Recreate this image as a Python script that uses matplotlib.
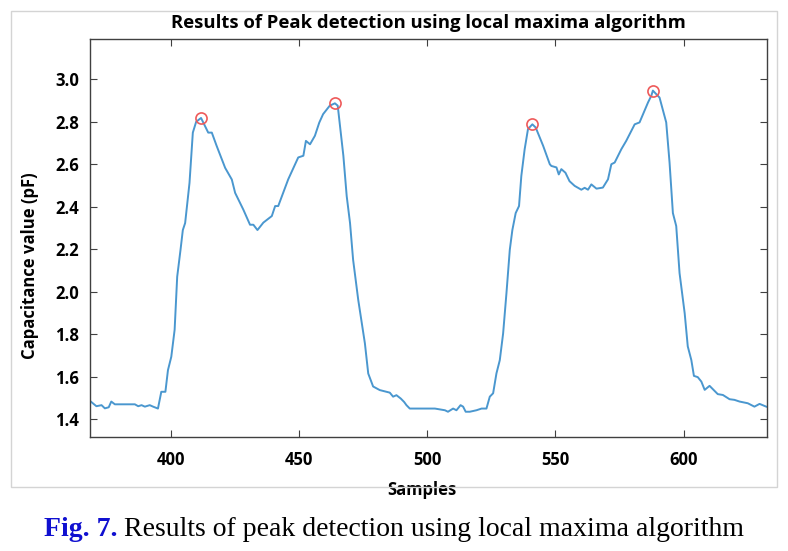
import numpy as np
import matplotlib.pyplot as plt
from matplotlib.patches import Rectangle

samples = [368.8, 371, 373, 374.3, 375.8, 376.8, 378.2, 386, 387.3, 388.6, 389.9, 391.8,
           393.1, 395, 396.3, 397.9, 398.9, 400.2, 401.5, 402.5, 403.8, 404.7, 405.6,
           407.3, 408.6, 409.9, 411.8, 414.6, 416, 417.9, 421.2, 423.8, 425.1, 428.3,
           430.9, 432.2, 433.8, 436.1, 439.4, 440.7, 441.9, 445.8, 449.7, 451.7, 452.7,
           454.3, 456.2, 457.9, 459.4, 462, 464, 465.1, 467.3, 468.6, 469.9, 471.1,
           473.1, 475.7, 477, 478.9, 481.5, 485.4, 486.7, 488, 489.7, 491, 491.9, 493.2,
           503, 506.9, 508.1, 510.1, 511.4, 513, 514, 515, 516.6, 519.2, 521.2, 523.1,
           524.4, 525.7, 527, 528.3, 529.6, 530.9, 532.2, 533.2, 534.5, 535.8, 536.7,
           538, 539.3, 541, 542.3, 545.2, 547.8, 548.4, 550.4, 551.3, 552.3, 553.9,
           555.5, 557.5, 560.1, 561.4, 562.7, 564, 566, 568.5, 570.5, 571.8, 573.1,
           575.7, 577.6, 580.9, 582.8, 584.7, 586.1, 587.4, 588, 590.6, 593.2, 594.5,
           595.8, 597.1, 598.4, 600.4, 601.6, 603, 604, 605.5, 606.9, 608.2, 610.1,
           613.3, 615.3, 617.9, 619.8, 621.8, 625, 627.6, 629.6, 632.2]
capacitance = [1.482, 1.46, 1.465, 1.45, 1.455, 1.482, 1.469, 1.469, 1.46, 1.465, 1.458, 1.465,
               1.458, 1.449, 1.528, 1.528, 1.63, 1.693, 1.82, 2.07, 2.197, 2.29, 2.323,
               2.512, 2.749, 2.80, 2.818, 2.749, 2.749, 2.686, 2.583, 2.528, 2.465, 2.386,
               2.315, 2.315, 2.29, 2.325, 2.356, 2.403, 2.403, 2.529, 2.632, 2.64, 2.71,
               2.694, 2.734, 2.796, 2.836, 2.876, 2.887, 2.876, 2.64, 2.45, 2.323, 2.15,
               1.961, 1.756, 1.614, 1.553, 1.536, 1.524, 1.505, 1.512, 1.496, 1.48, 1.465, 1.449,
               1.449, 1.441, 1.434, 1.449, 1.441, 1.465, 1.458, 1.434, 1.434, 1.441, 1.449, 1.449,
               1.505, 1.521, 1.615, 1.677, 1.803, 1.993, 2.197, 2.29, 2.37, 2.403, 2.545,
               2.671, 2.766, 2.788, 2.773, 2.687, 2.6, 2.592, 2.585, 2.552, 2.577, 2.56,
               2.52, 2.498, 2.48, 2.489, 2.48, 2.505, 2.485, 2.49, 2.529, 2.6, 2.608,
               2.671, 2.71, 2.788, 2.797, 2.851, 2.891, 2.923, 2.947, 2.914, 2.797, 2.608,
               2.37, 2.309, 2.087, 1.898, 1.742, 1.677, 1.603, 1.597, 1.576, 1.537, 1.556,
               1.517, 1.513, 1.493, 1.49, 1.482, 1.474, 1.458, 1.471, 1.458]

# detected local maxima
peak_x = [411.8, 464, 541, 588]
peak_y = [2.818, 2.887, 2.788, 2.947]

xticks = [400, 450, 500, 550, 600]
yticks = [1.4, 1.6, 1.8, 2.0, 2.2, 2.4, 2.6, 2.8, 3.0]

font = ['Open Sans', 'DejaVu Sans']
fig = plt.figure(figsize=(7.88, 5.51), dpi=100, facecolor='white')

# light grey frame around the MATLAB figure
fig.patches.append(Rectangle((11 / 788, 1 - 487 / 551), 766 / 788, 476 / 551,
                             transform=fig.transFigure, fill=False,
                             edgecolor='#d4d4d4', lw=1))

ax = fig.add_axes([90 / 788, 1 - 437 / 551, 677 / 788, 398 / 551])
ax.plot(samples, capacitance, color='#4a97cf', lw=1.4)
ax.plot(peak_x, peak_y, 'o', ms=8, mfc='none', mec='#ee5a5a', mew=1.2)

ax.set_xlim(368.5, 632.5)
ax.set_ylim(1.315, 3.19)
ax.set_xticks(xticks)
ax.set_yticks(yticks)
ax.set_xticklabels([str(t) for t in xticks], fontfamily=font, fontweight='bold', fontsize=12)
ax.set_yticklabels(['%.1f' % t for t in yticks], fontfamily=font, fontweight='bold', fontsize=12)
ax.tick_params(axis='y', direction='in', right=True, length=5, width=0.8,
               color='#404040', pad=8)
ax.tick_params(axis='x', direction='in', top=True, length=5, width=0.8,
               color='#404040', pad=10)
for s in ax.spines.values():
    s.set_color('#404040')
    s.set_linewidth(1)

ax.set_title('Results of Peak detection using local maxima algorithm',
             fontfamily=font, fontweight='bold', fontsize=13.3, pad=8)
ax.set_ylabel('Capacitance value (pF)', fontfamily=font, fontweight='bold', fontsize=12)
ax.set_xlabel('Samples', fontfamily=font, fontweight='bold', fontsize=12)
ax.yaxis.set_label_coords(-0.088, 0.43)
ax.xaxis.set_label_coords(0.49, -0.133)
ax.xaxis.label.set_va('center')
ax.yaxis.label.set_va('center')

# caption below the figure
t1 = fig.text(44 / 788, 1 - 530 / 551, 'Fig. 7.', fontfamily='Liberation Serif',
              fontweight='bold', fontsize=20, color='#1010d0', va='center')
fig.canvas.draw()
bb = t1.get_window_extent()
fig.text((bb.x1 + 6) / 788, 1 - 530 / 551,
         'Results of peak detection using local maxima algorithm',
         fontfamily='Liberation Serif', fontsize=20, color='black', va='center')

plt.savefig('out.png', dpi=100)
